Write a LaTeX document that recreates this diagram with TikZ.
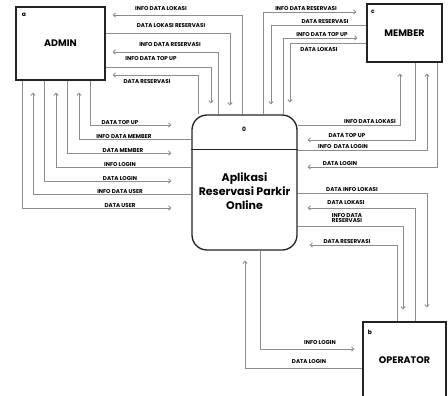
\documentclass[tikz,border=0pt]{standalone}
\usepackage{fontspec}
\setmainfont{Poppins}
\usetikzlibrary{arrows.meta}
\definecolor{flowgray}{RGB}{140,140,140}
\definecolor{boxline}{RGB}{35,35,35}
\tikzset{
  entity/.style = {draw=boxline, line width=1.3pt, inner sep=0pt,
                   font=\fontsize{9.5}{11}\selectfont\bfseries},
  procbox/.style = {draw=boxline, line width=1.3pt, rounded corners=15pt, inner sep=0pt},
  idtag/.style = {font=\fontsize{6}{7}\selectfont\bfseries, inner sep=0pt},
  lbl/.style = {font=\fontsize{5.6}{5.8}\selectfont\bfseries, inner sep=0pt, align=center},
  flow/.style = {draw=flowgray, line width=0.9pt,
                 -{Straight Barb[length=2.2pt,width=4.5pt]}},
  plain/.style = {draw=flowgray, line width=0.9pt}
}
\begin{document}
\begin{tikzpicture}[x=1pt, y=-1pt]
    \useasboundingbox (0,0) rectangle (448,396);
    % external entities and the process
    \node [entity, minimum width=89pt, minimum height=73pt]  (admin)    at (60.5,43.5) {ADMIN};
    \node [entity, minimum width=75pt, minimum height=58pt]  (member)   at (404.5,33)  {MEMBER};
    \node [entity, minimum width=83pt, minimum height=76pt]  (operator) at (404.5,360) {OPERATOR};
    \node [procbox, minimum width=105pt, minimum height=135pt] (proc)   at (244.5,182.5) {};
    \node [idtag] (admin-id)    at (24,15)  {a};
    \node [idtag] (member-id)   at (373,12) {c};
    \node [idtag] (operator-id) at (370,332) {b};
    \node [idtag] (proc-id)     at (244,129) {0};
    \coordinate (proc-div-l) at (proc.west |- 0,150);
    \coordinate (proc-div-r) at (proc.east |- 0,150);
    \draw [boxline, line width=1pt] (proc-div-l) -- (proc-div-r);
    \node [font=\fontsize{11}{14}\selectfont\bfseries, align=center, inner sep=0pt]
          (proc-name) at (244.5,191) {Aplikasi\\Reservasi Parkir\\Online};

    % admin <-> process (top)
    \draw [flow, shorten >=7pt] (proc.north -| 242,0) |- (admin.east |- 0,15);
    \draw [flow, shorten >=9pt] (admin.east |- 0,33) -| (proc.north -| 230,0);
    \draw [flow, shorten >=7pt] (proc.north -| 218,0) |- (admin.east |- 0,52);
    \draw [flow, shorten >=11pt] (admin.east |- 0,67) -| (proc.north -| 211,0);
    \draw [flow, shorten >=7pt] (proc.north -| 198,0) |- (admin.east |- 0,75);
    \node [lbl] (l-admin1) at (161,8.5)  {INFO DATA LOKASI};
    \node [lbl] (l-admin2) at (171,26) {DATA LOKASI RESERVASI};
    \node [lbl] (l-admin3) at (170,45) {INFO DATA RESERVASI};
    \node [lbl] (l-admin4) at (151,58.5) {INFO DATA TOP UP};
    \node [lbl] (l-admin5) at (147,81.5) {DATA RESERVASI};

    % admin <-> process (left)
    \draw [flow, shorten >=20pt] (admin.south -| 90,0) |- (proc.west |- 0,125);
    \draw [flow, shorten >=12pt] (proc.west |- 0,139) -| (admin.south -| 79,0);
    \draw [flow, shorten >=20pt] (admin.south -| 67,0) |- (proc.west |- 0,153);
    \draw [flow, shorten >=12pt] (proc.west |- 0,167) -| (admin.south -| 56,0);
    \draw [flow, shorten >=20pt] (admin.south -| 44,0) |- (proc.west |- 0,181);
    \draw [flow, shorten >=12pt] (proc.west |- 0,194) -| (admin.south -| 33,0);
    \draw [flow, shorten >=20pt] (admin.south -| 22,0) |- (proc.west |- 0,208);
    \node [lbl] (l-left1) at (120,122.5) {DATA TOP UP};
    \node [lbl] (l-left2) at (124,136.5) {INFO DATA MEMBER};
    \node [lbl] (l-left3) at (123,150.5) {DATA MEMBER};
    \node [lbl] (l-left4) at (120,164.5) {INFO LOGIN};
    \node [lbl] (l-left5) at (120,178.5) {DATA LOGIN};
    \node [lbl] (l-left6) at (120,191.5) {INFO DATA USER};
    \node [lbl] (l-left7) at (120,205.5) {DATA USER};

    % member <-> process (top)
    \draw [flow, shorten >=10pt] (proc.north -| 263,0) |- (member.west |- 0,12);
    \draw [flow, shorten >=10pt] (member.west |- 0,25) -| (proc.north -| 271,0);
    \draw [flow, shorten >=9pt]  (proc.north -| 283,0) |- (member.west |- 0,38);
    \draw [flow, shorten >=12pt] (member.west |- 0,43) -| (proc.north -| 290,0);
    \node [lbl] (l-member1) at (306,8.5)  {INFO DATA RESERVASI};
    \node [lbl] (l-member2) at (325,21.5) {DATA RESERVASI};
    \node [lbl] (l-member3) at (322,34.5) {INFO DATA TOP UP};
    \node [lbl] (l-member4) at (319,50) {DATA LOKASI};

    % member <-> process (right)
    \draw [flow, shorten >=11pt] (proc.east |- 0,125) -| (member.south -| 400,0);
    \draw [flow, shorten >=10pt] (member.south -| 415,0) |- (proc.east |- 0,140);
    \draw [flow, shorten >=11pt] (proc.east |- 0,150) -| (member.south -| 427,0);
    \draw [flow, shorten >=10pt] (member.south -| 437,0) |- (proc.east |- 0,167);
    \node [lbl] (l-member5) at (370,121.5) {INFO DATA LOKASI};
    \node [lbl] (l-member6) at (347,136) {DATA TOP UP};
    \node [lbl] (l-member7) at (343,146.5) {INFO~~DATA LOGIN};
    \node [lbl] (l-member8) at (340,163.5) {DATA LOGIN};

    % operator <-> process
    \draw [flow, shorten >=14pt] (proc.east |- 0,193) -| (operator.north -| 427,0);
    \draw [flow, shorten >=10pt] (operator.north -| 415,0) |- (proc.east |- 0,208);
    \draw [flow, shorten >=12pt] (proc.east |- 0,226) -| (operator.north -| 403,0);
    \draw [flow, shorten >=12pt] (operator.north -| 397,0) |- (proc.east |- 0,245);
    \draw [flow, shorten >=8pt]  (proc.south -| 260,0) |- (operator.west |- 0,349);
    \draw [flow, shorten >=10pt] (operator.west |- 0,368) -| (proc.south -| 245,0);
    \node [lbl] (l-oper1) at (352,189.5) {DATA INFO LOKASI};
    \node [lbl] (l-oper2) at (346,203) {DATA LOKASI};
    \node [lbl] (l-oper3) at (347,218) {INFO DATA\\RESERVASI};
    \node [lbl] (l-oper4) at (347,241.5) {DATA RESERVASI};
    \node [lbl] (l-oper5) at (320,342.5) {INFO LOGIN};
    \node [lbl] (l-oper6) at (309,362) {DATA LOGIN};
\end{tikzpicture}
\end{document}
